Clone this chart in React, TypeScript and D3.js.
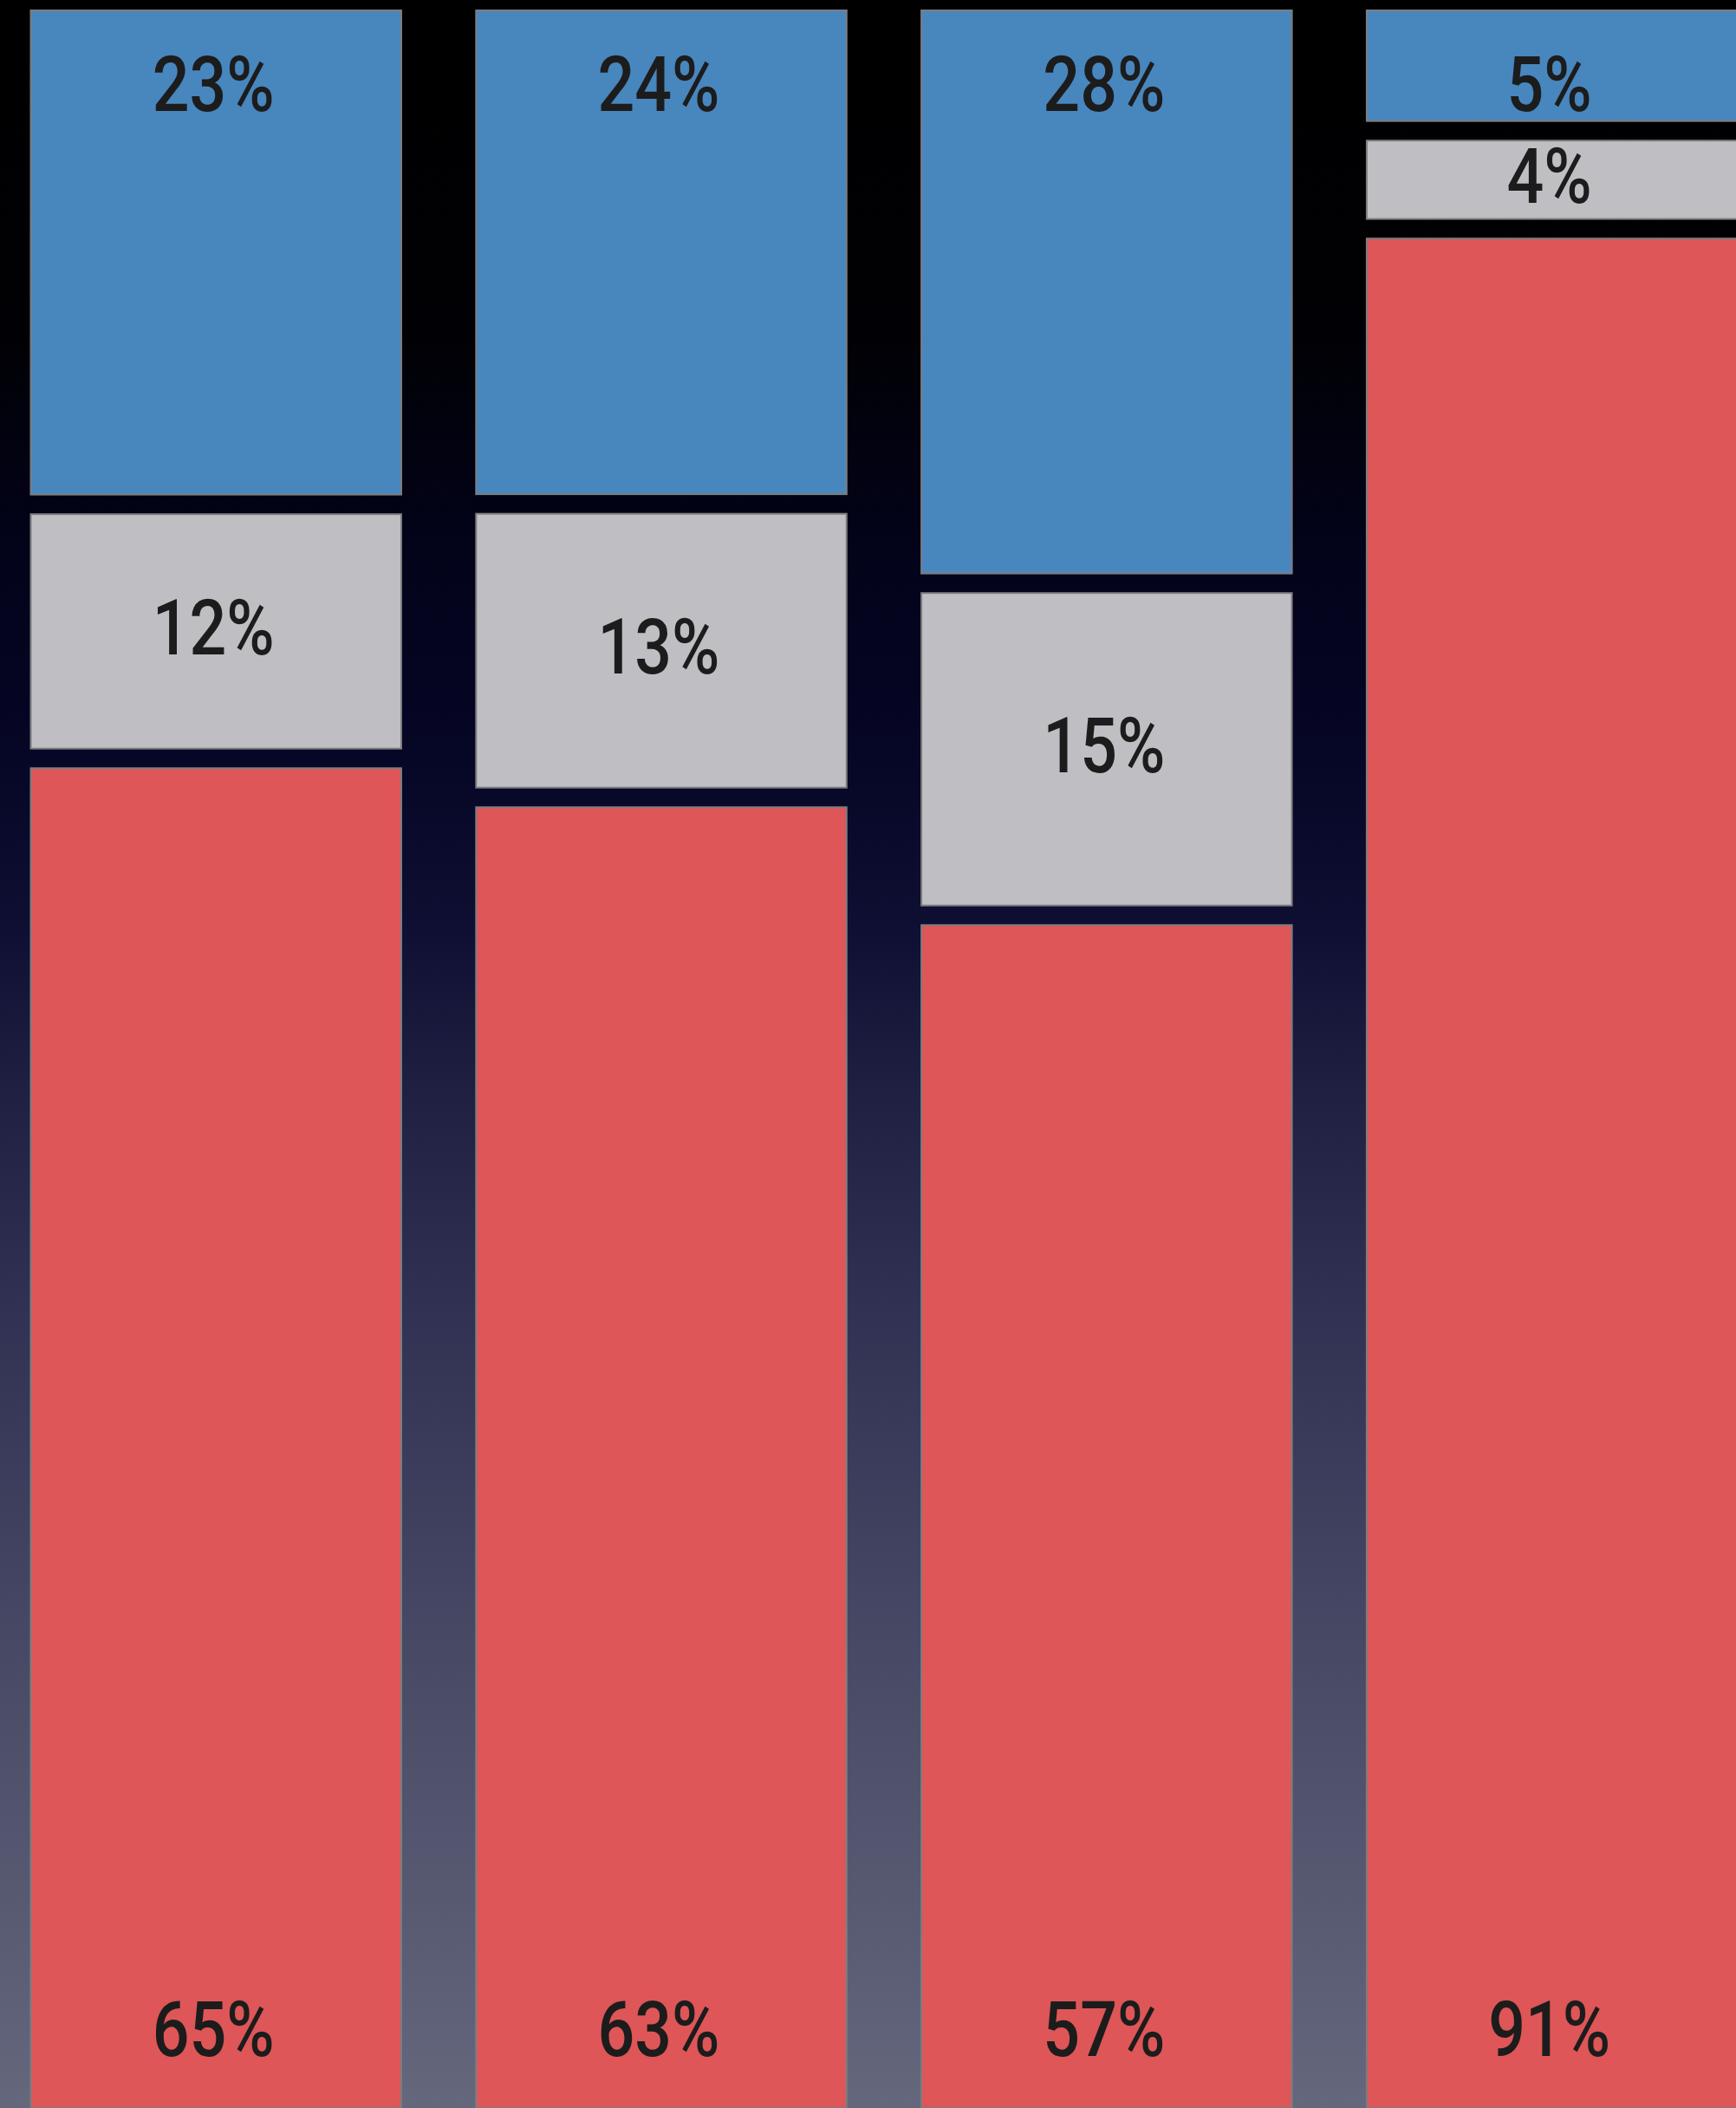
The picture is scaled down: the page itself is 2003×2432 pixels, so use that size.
import React from "react";
import * as d3 from "d3";

// Data
const categories = ["Bar 1", "Bar 2", "Bar 3", "Bar 4"];
// segment shares as drawn (percent of bar height)
const redShare = [64.34, 62.48, 56.86, 89.59];
const greyShare = [12.11, 13.99, 15.83, 4.67];
const blueShare = [23.55, 23.53, 27.31, 5.74];
// printed percentages
const redLabel = [65, 63, 57, 91];
const greyLabel = [12, 13, 15, 4];
const blueLabel = [23, 24, 28, 5];

const seriesKeys = ["red", "grey", "blue"];
const seriesColor: Record<string, string> = {
  red: "#DE5657",
  grey: "#BFBEC3",
  blue: "#4886BE",
};
const seriesLabels: Record<string, number[]> = {
  red: redLabel,
  grey: greyLabel,
  blue: blueLabel,
};

const W = 2003;
const H = 2432;

export default function App() {
  const rows = categories.map((c, i) => ({
    cat: c,
    red: redShare[i],
    grey: greyShare[i],
    blue: blueShare[i],
  }));
  const stacked = d3.stack<any>().keys(seriesKeys)(rows);

  const x = d3
    .scaleBand<string>()
    .domain(categories)
    .range([35.5, 2004.4])
    .paddingInner(0.168)
    .paddingOuter(0);
  const y = d3.scaleLinear().domain([0, 100]).range([H, 12]);
  const halfGap = 11.3;
  const bw = x.bandwidth();

  const bgStops = [
    [0, "#000000"],
    [0.16, "#010105"],
    [0.26, "#03031a"],
    [0.36, "#060626"],
    [0.44, "#0f0f33"],
    [0.52, "#1f2042"],
    [0.62, "#313253"],
    [0.72, "#3f405e"],
    [0.82, "#4d4f69"],
    [0.92, "#5a5c74"],
    [1, "#65677d"],
  ];

  return (
    <div style={{ position: "absolute", left: 0, top: 0, width: W, height: H }}>
      <svg width={W} height={H} style={{ display: "block" }}>
        <defs>
          <linearGradient id="bg" x1="0" y1="0" x2="0" y2="1">
            {bgStops.map(([o, c], i) => (
              <stop key={i} offset={o as number} stopColor={c as string} />
            ))}
          </linearGradient>
        </defs>
        <rect x={0} y={0} width={W} height={H} fill="url(#bg)" />
        {stacked.map((series) => {
          const key = series.key;
          return (
            <g key={key}>
              {series.map((d, i) => {
                const start = d[0];
                const end = d[1];
                let top = y(end);
                let bottom = y(start);
                if (end < 99.9) top += halfGap;
                if (start > 0.1) bottom -= halfGap;
                const cx = (x(categories[i]) as number) + bw / 2 - 3;
                let baseline: number;
                if (key === "blue") baseline = top + 116;
                else if (key === "red") baseline = bottom - 60;
                else baseline = (top + bottom) / 2 + 26.5;
                return (
                  <g key={i}>
                    <rect
                      x={x(categories[i])}
                      y={top}
                      width={bw}
                      height={bottom - top}
                      fill={seriesColor[key]}
                      stroke="#7d7d80"
                      strokeWidth={2}
                    />
                    <text
                      transform={`translate(${cx},${baseline}) scale(0.85,1)`}
                      textAnchor="middle"
                      fontFamily="Roboto, 'Liberation Sans', sans-serif"
                      fontWeight={500}
                      fontSize={88.6}
                      fill="#1c1c1c"
                    >
                      {`${seriesLabels[key][i]}%`}
                    </text>
                  </g>
                );
              })}
            </g>
          );
        })}
      </svg>
    </div>
  );
}
